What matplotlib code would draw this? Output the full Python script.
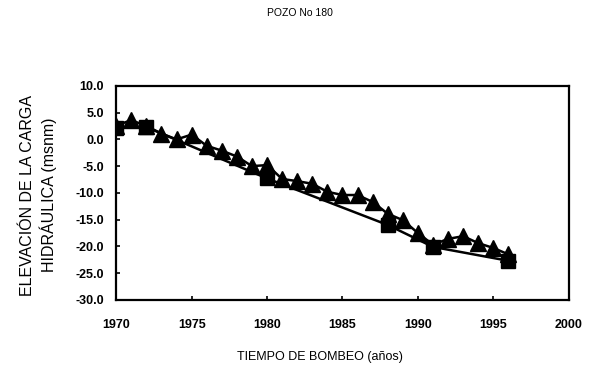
import matplotlib.pyplot as plt

plt.rcParams['font.family'] = ['Liberation Sans', 'DejaVu Sans']

# niveles observados (triangulos)
anios_obs = [1970, 1971, 1972, 1973, 1974, 1975, 1976, 1977, 1978, 1979,
             1980, 1981, 1982, 1983, 1984, 1985, 1986, 1987, 1988, 1989,
             1990, 1991, 1992, 1993, 1994, 1995, 1996]
carga_obs = [2.6, 3.6, 2.5, 1.1, 0.0, 0.9, -1.2, -2.1, -3.2, -5.0,
             -4.8, -7.4, -7.8, -8.3, -9.8, -10.4, -10.4, -11.7, -13.9, -15.1,
             -17.5, -19.7, -18.6, -18.1, -19.4, -20.3, -21.5]

# niveles simulados (cuadrados)
anios_sim = [1970, 1972, 1980, 1988, 1991, 1996]
carga_sim = [2.2, 2.3, -7.3, -16.0, -20.1, -22.7]

yticks = [10, 5, 0, -5, -10, -15, -20, -25, -30]
xticks = [1970, 1975, 1980, 1985, 1990, 1995, 2000]

fig = plt.figure(figsize=(5.9, 3.72), dpi=100)
ax = fig.add_axes([0.197, 0.194, 0.767, 0.575])

ax.plot(anios_sim, carga_sim, color='black', lw=1.8, marker='s', ms=10.5,
        mfc='black', mec='black', zorder=3)
ax.plot(anios_obs, carga_obs, color='black', lw=1.8, marker='^', ms=11,
        mfc='black', mec='black', zorder=2)

ax.set_xlim(1970, 2000)
ax.set_ylim(-30, 10)
ax.set_xticks(xticks)
ax.set_yticks(yticks)
ax.set_yticklabels([f'{v:.1f}' for v in yticks])
ax.tick_params(direction='in', length=3, width=1.2, labelsize=9)
ax.tick_params(axis='x', pad=14)
ax.tick_params(axis='y', pad=9)
for lab in ax.get_xticklabels() + ax.get_yticklabels():
    lab.set_fontweight('bold')
for s in ax.spines.values():
    s.set_linewidth(1.6)

ax.set_xlabel('TIEMPO DE BOMBEO (años)', fontsize=9)
ax.xaxis.set_label_coords(0.45, -0.24)
ax.set_ylabel('ELEVACIÓN DE LA CARGA\nHIDRÁULICA (msnm)', fontsize=11.5,
              linespacing=1.35)
ax.yaxis.set_label_coords(-0.13, 0.49)
fig.text(0.508, 0.965, 'POZO No 180', ha='center', va='center', fontsize=7.5)

fig.savefig('out.png', dpi=100)
